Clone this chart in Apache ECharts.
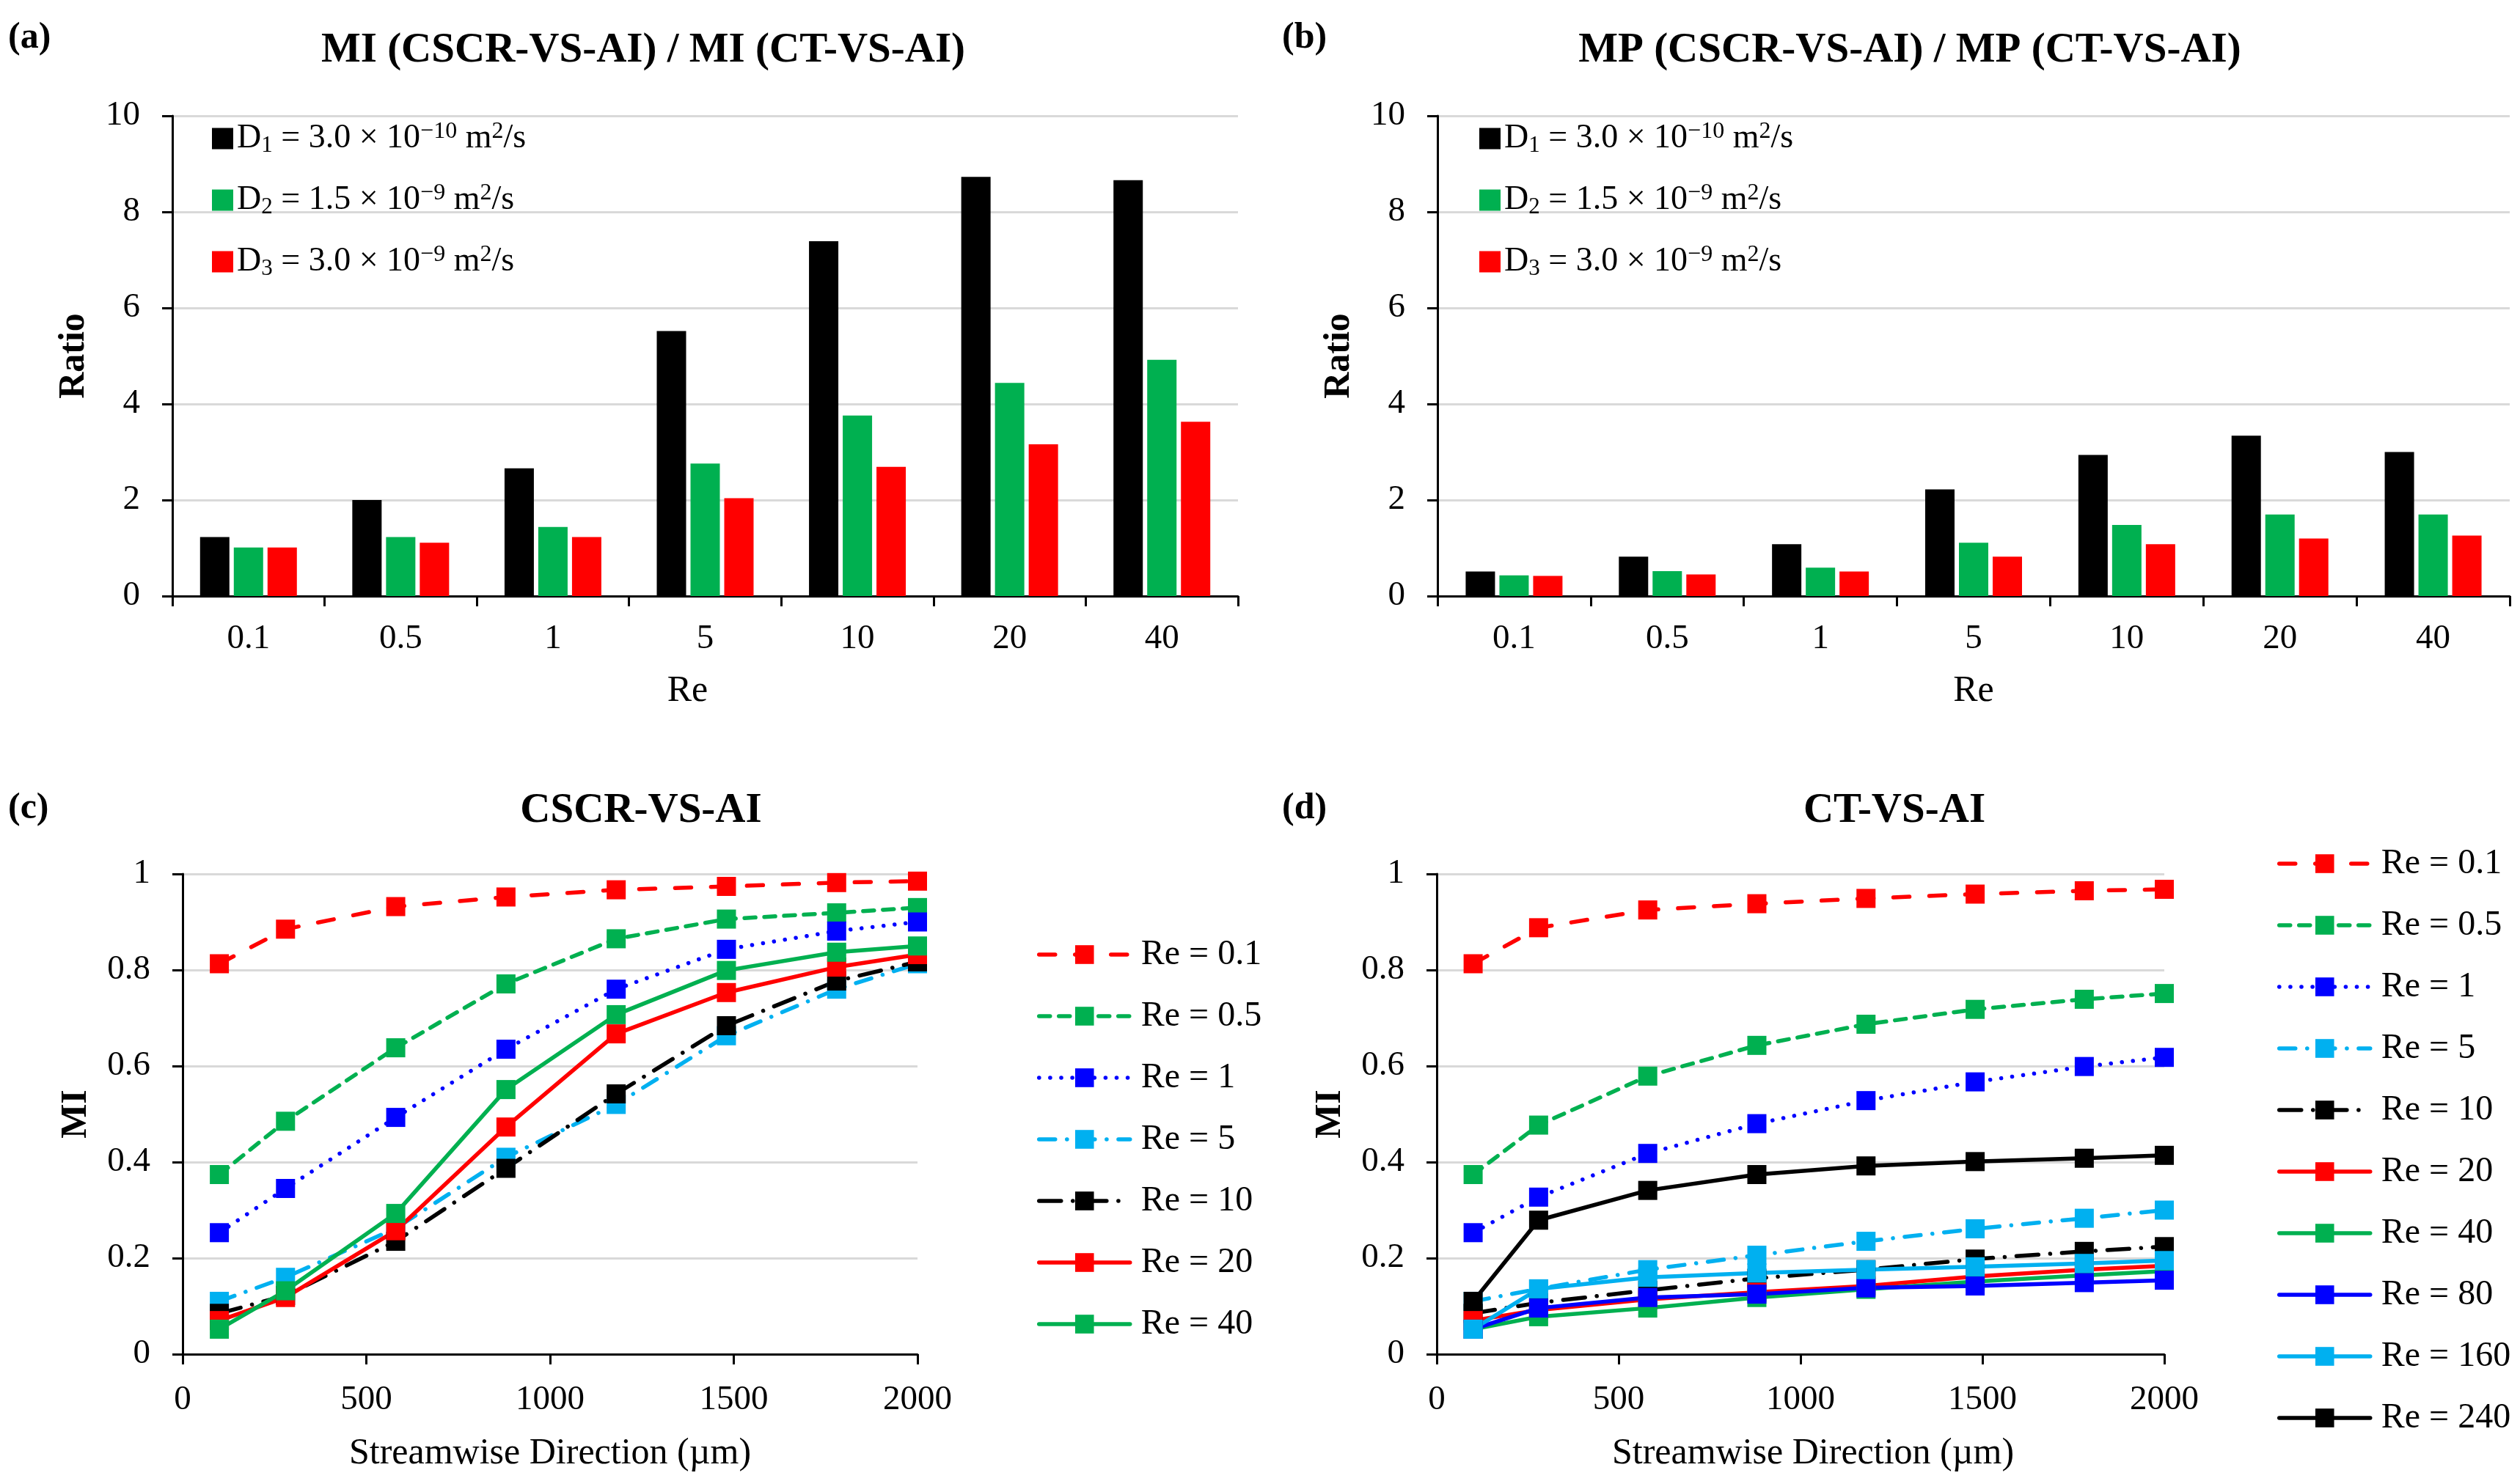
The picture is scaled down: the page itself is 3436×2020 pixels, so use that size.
<!DOCTYPE html>
<html lang="en">
<head>
  <meta charset="UTF-8">
  <title>MI / MP ratio and MI curves</title>
  <script src="https://cdn.jsdelivr.net/npm/echarts@6/dist/echarts.min.js"></script>
  <style>
    html, body { margin: 0; padding: 0; background: #fff; }
  </style>
</head>
<body>
<div id="main" style="width: 3436px; height: 2020px;"></div>

<script>
  // ---- data ----
  var reCats = ['0.1', '0.5', '1', '5', '10', '20', '40'];
  var diffNames = ['D1 = 3.0 x 10^-10 m2/s', 'D2 = 1.5 x 10^-9 m2/s', 'D3 = 3.0 x 10^-9 m2/s'];
  // rich-text labels for the legend (sub/superscripts)
  var diffLabels = [
    '{t|D}{sub|1}{t| = 3.0 \u00d7 10}{sup|\u221210}{t| m}{sup|2}{t|/s}',
    '{t|D}{sub|2}{t| = 1.5 \u00d7 10}{sup|\u22129}{t| m}{sup|2}{t|/s}',
    '{t|D}{sub|3}{t| = 3.0 \u00d7 10}{sup|\u22129}{t| m}{sup|2}{t|/s}'
  ];
  var diffColors = ['#000000', '#00B050', '#FF0000'];

  // (a) MI ratio
  var miRatioD1 = [1.23, 2.00, 2.66, 5.52, 7.39, 8.73, 8.66];
  var miRatioD2 = [1.01, 1.23, 1.44, 2.76, 3.76, 4.44, 4.92];
  var miRatioD3 = [1.01, 1.11, 1.23, 2.04, 2.69, 3.16, 3.63];
  // (b) MP ratio
  var mpRatioD1 = [0.51, 0.82, 1.08, 2.22, 2.94, 3.34, 3.00];
  var mpRatioD2 = [0.43, 0.52, 0.59, 1.11, 1.48, 1.70, 1.70];
  var mpRatioD3 = [0.42, 0.45, 0.51, 0.82, 1.08, 1.20, 1.26];

  // streamwise positions (um)
  var xPos = [100, 280, 580, 880, 1180, 1480, 1780, 2000];

  // (c) CSCR-VS-AI
  var cscrNames = ['Re = 0.1', 'Re = 0.5', 'Re = 1', 'Re = 5', 'Re = 10', 'Re = 20', 'Re = 40'];
  var cscrMI = [
    [0.813, 0.885, 0.932, 0.952, 0.967, 0.974, 0.982, 0.985],
    [0.374, 0.485, 0.638, 0.771, 0.865, 0.906, 0.919, 0.930],
    [0.253, 0.345, 0.493, 0.635, 0.760, 0.843, 0.881, 0.900],
    [0.110, 0.160, 0.262, 0.410, 0.520, 0.663, 0.760, 0.813],
    [0.085, 0.122, 0.235, 0.387, 0.542, 0.684, 0.777, 0.817],
    [0.070, 0.118, 0.257, 0.473, 0.667, 0.753, 0.806, 0.832],
    [0.052, 0.132, 0.293, 0.551, 0.707, 0.799, 0.837, 0.850]
  ];

  // (d) CT-VS-AI
  var ctNames = ['Re = 0.1', 'Re = 0.5', 'Re = 1', 'Re = 5', 'Re = 10', 'Re = 20',
                 'Re = 40', 'Re = 80', 'Re = 160', 'Re = 240'];
  var ctMI = [
    [0.813, 0.888, 0.925, 0.938, 0.949, 0.958, 0.965, 0.968],
    [0.374, 0.477, 0.579, 0.643, 0.687, 0.718, 0.739, 0.751],
    [0.253, 0.327, 0.418, 0.480, 0.528, 0.567, 0.599, 0.618],
    [0.110, 0.136, 0.176, 0.206, 0.235, 0.261, 0.283, 0.300],
    [0.085, 0.107, 0.133, 0.158, 0.176, 0.198, 0.214, 0.224],
    [0.070, 0.092, 0.114, 0.129, 0.142, 0.162, 0.176, 0.184],
    [0.052, 0.078, 0.096, 0.118, 0.135, 0.151, 0.164, 0.173],
    [0.052, 0.096, 0.118, 0.125, 0.138, 0.142, 0.149, 0.154],
    [0.052, 0.136, 0.160, 0.169, 0.176, 0.182, 0.189, 0.195],
    [0.110, 0.279, 0.341, 0.374, 0.392, 0.401, 0.408, 0.414]
  ];

  // line look per Re (shared by c and d); dashes are drawn with round caps
  var reStyle = {
    'Re = 0.1': { color: '#FF0000', dash: [22, 27] },
    'Re = 0.5': { color: '#00B050', dash: [15, 12] },
    'Re = 1':   { color: '#0000FF', dash: [0.1, 15] },
    'Re = 5':   { color: '#00B0F0', dash: [22, 16, 0.1, 16] },
    'Re = 10':  { color: '#000000', dash: [30, 16, 0.1, 16] },
    'Re = 20':  { color: '#FF0000', dash: 'solid' },
    'Re = 40':  { color: '#00B050', dash: 'solid' },
    'Re = 80':  { color: '#0000FF', dash: 'solid' },
    'Re = 160': { color: '#00B0F0', dash: 'solid' },
    'Re = 240': { color: '#000000', dash: 'solid' }
  };

  var FONT = '"Liberation Serif", "Times New Roman", serif';
  var TICK = 47;
  var chart = echarts.init(document.getElementById('main'));

  function valueAxisY(grid, max, interval, name, gap) {
    return {
      type: 'value', gridIndex: grid, min: 0, max: max, interval: interval,
      name: name, nameLocation: 'middle', nameGap: gap,
      nameTextStyle: { fontFamily: FONT, fontSize: 50, fontWeight: 'bold', color: '#000' },
      axisLine: { show: true, lineStyle: { color: '#000', width: 3 } },
      axisTick: { show: true, length: 14, lineStyle: { color: '#000', width: 3 } },
      axisLabel: { fontFamily: FONT, fontSize: TICK, color: '#000', margin: 44 },
      splitLine: { show: true, lineStyle: { color: '#D9D9D9', width: 3 } }
    };
  }

  function categoryAxisX(grid, pad) {
    return {
      type: 'category', gridIndex: grid, data: reCats,
      name: 'Re', nameLocation: 'middle', nameGap: 105,
      nameTextStyle: { fontFamily: FONT, fontSize: 50, color: '#000', padding: pad },
      axisLine: { lineStyle: { color: '#000', width: 3 } },
      axisTick: { show: true, interval: 0, length: 14, lineStyle: { color: '#000', width: 3 } },
      axisLabel: { fontFamily: FONT, fontSize: TICK, color: '#000', margin: 35 },
      splitLine: { show: false }
    };
  }

  function distanceAxisX(grid, pad) {
    return {
      type: 'value', gridIndex: grid, min: 0, max: 2000, interval: 500,
      name: 'Streamwise Direction (\u00b5m)', nameLocation: 'middle', nameGap: 111,
      nameTextStyle: { fontFamily: FONT, fontSize: 50, color: '#000', padding: pad },
      axisLine: { show: true, lineStyle: { color: '#000', width: 3 } },
      axisTick: { show: true, length: 14, lineStyle: { color: '#000', width: 3 } },
      axisLabel: {
        fontFamily: FONT, fontSize: TICK, color: '#000', margin: 39,
        formatter: function (v) { return String(v); }
      },
      splitLine: { show: false }
    };
  }

  function barSeries(values, idx, axis) {
    return {
      type: 'bar', name: diffNames[idx], data: values,
      xAxisIndex: axis, yAxisIndex: axis,
      barWidth: 40, barGap: '15%',
      itemStyle: { color: diffColors[idx] }
    };
  }

  function lineSeries(name, values, axis) {
    var st = reStyle[name];
    return {
      type: 'line', name: name,
      data: xPos.map(function (x, i) { return [x, values[i]]; }),
      xAxisIndex: axis, yAxisIndex: axis,
      symbol: 'rect', symbolSize: 26, showAllSymbol: true,
      lineStyle: { color: st.color, width: 5.5, type: st.dash, cap: 'round' },
      itemStyle: { color: st.color },
      emphasis: { disabled: true }
    };
  }

  var series = [];
  [miRatioD1, miRatioD2, miRatioD3].forEach(function (v, i) { series.push(barSeries(v, i, 0)); });
  [mpRatioD1, mpRatioD2, mpRatioD3].forEach(function (v, i) { series.push(barSeries(v, i, 1)); });
  cscrNames.forEach(function (n, i) { series.push(lineSeries(n, cscrMI[i], 2)); });
  ctNames.forEach(function (n, i) { series.push(lineSeries(n, ctMI[i], 3)); });

  var titleStyle = { fontFamily: FONT, fontSize: 57, fontWeight: 'bold', color: '#000' };
  var tagStyle = { fontFamily: FONT, fontSize: 50, fontWeight: 'bold', color: '#000' };

  var barLegendText = {
    fontFamily: FONT, fontSize: 46, color: '#000', lineHeight: 50,
    rich: {
      t: { fontFamily: FONT, fontSize: 46, color: '#000', lineHeight: 50 },
      sub: { fontFamily: FONT, fontSize: 31, color: '#000', lineHeight: 31, verticalAlign: 'bottom' },
      sup: { fontFamily: FONT, fontSize: 32, color: '#000', lineHeight: 34, verticalAlign: 'top' }
    }
  };
  function barLegendFormatter(name) {
    return diffLabels[diffNames.indexOf(name)];
  }
  var lineLegendText = { fontFamily: FONT, fontSize: 48, color: '#000', lineHeight: 48, padding: [0, 0, 0, 10] };

  function barLegend(left) {
    return {
      data: diffNames, orient: 'vertical', left: left, top: 164, padding: 0,
      itemWidth: 29, itemHeight: 29, itemGap: 34, icon: 'rect',
      formatter: barLegendFormatter, textStyle: barLegendText, selectedMode: false
    };
  }
  function lineLegend(names, left, top) {
    return {
      data: names, orient: 'vertical', left: left, top: top, padding: 0,
      itemWidth: 124, itemHeight: 32, itemGap: 36,
      lineStyle: { width: 5.5 },
      textStyle: lineLegendText, selectedMode: false
    };
  }

  var option = {
    backgroundColor: '#ffffff',
    animation: false,
    title: [
      { text: '(a)', left: 11, top: 27, textStyle: tagStyle, padding: 0 },
      { text: 'MI (CSCR-VS-AI) / MI (CT-VS-AI)', left: 877, top: 41, textAlign: 'center', textStyle: titleStyle, padding: 0 },
      { text: '(b)', left: 1748, top: 27, textStyle: tagStyle, padding: 0 },
      { text: 'MP (CSCR-VS-AI) / MP (CT-VS-AI)', left: 2604, top: 41, textAlign: 'center', textStyle: titleStyle, padding: 0 },
      { text: '(c)', left: 11, top: 1078, textStyle: tagStyle, padding: 0 },
      { text: 'CSCR-VS-AI', left: 874, top: 1078, textAlign: 'center', textStyle: titleStyle, padding: 0 },
      { text: '(d)', left: 1748, top: 1078, textStyle: tagStyle, padding: 0 },
      { text: 'CT-VS-AI', left: 2583, top: 1078, textAlign: 'center', textStyle: titleStyle, padding: 0 }
    ],
    legend: [
      barLegend(289),
      barLegend(2017),
      lineLegend(cscrNames, 1414, 1278),
      lineLegend(ctNames, 3105, 1154)
    ],
    grid: [
      { left: 235, top: 158, width: 1453, height: 655 },
      { left: 1960, top: 158, width: 1462, height: 655 },
      { left: 249, top: 1192, width: 1002, height: 655 },
      { left: 1959, top: 1192, width: 992, height: 655 }
    ],
    xAxis: [
      categoryAxisX(0, [0, 48, 0, 0]),
      categoryAxisX(1, 0),
      distanceAxisX(2, 0),
      distanceAxisX(3, [0, 0, 0, 34])
    ],
    yAxis: [
      valueAxisY(0, 10, 2, 'Ratio', 109),
      valueAxisY(1, 10, 2, 'Ratio', 109),
      valueAxisY(2, 1, 0.2, 'MI', 120),
      valueAxisY(3, 1, 0.2, 'MI', 120)
    ],
    series: series
  };

  chart.setOption(option);
</script>
</body>
</html>
